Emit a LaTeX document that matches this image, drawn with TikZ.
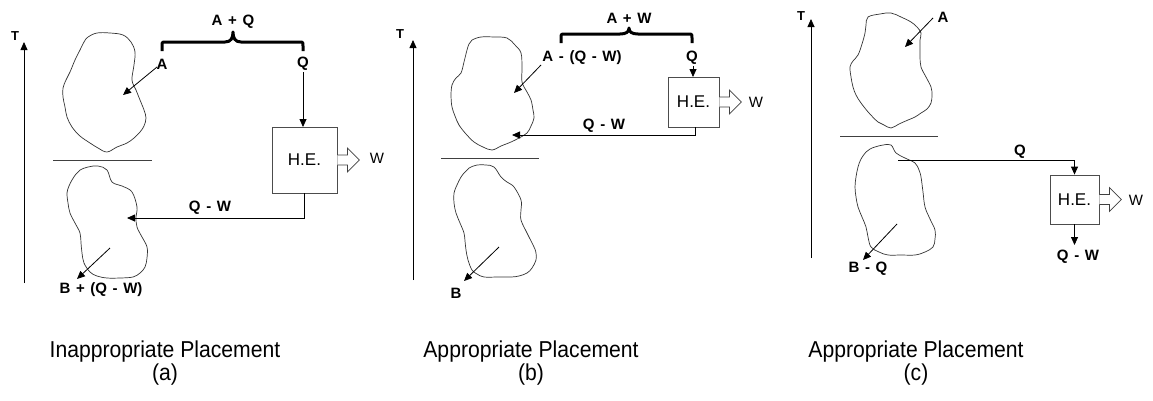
\documentclass[tikz,border=0pt]{standalone}
\usepackage{fontspec}
\setmainfont{Liberation Sans}
\newfontfamily\labfont{Liberation Sans}[WordSpace=1.35]
\newfontfamily\capfont{Liberation Sans}[FakeStretch=0.92]
\usetikzlibrary{arrows.meta}
\begin{document}
\begin{tikzpicture}[x=1pt,y=-1pt,
  blob/.style={draw=black!80, line width=0.7pt},
  arr/.style={draw=black, line width=0.8pt, -{Triangle[length=8pt,width=7pt]}},
  sepline/.style={draw=black!75, line width=0.8pt},
  lab/.style={font=\fontsize{15}{17}\labfont\bfseries, inner sep=0pt},
  wlab/.style={font=\fontsize{15}{17}\selectfont, inner sep=0pt},
  tlab/.style={font=\fontsize{13}{15}\selectfont\bfseries, inner sep=0pt},
  he/.style={draw=black!70, line width=0.8pt, fill=white, font=\fontsize{17}{19}\selectfont, inner sep=0pt},
  captext/.style={font=\fontsize{23}{25}\capfont, inner sep=0pt},
  bracepath/.style={draw=black, line width=3pt, line join=round},
  workarrow/.pic={\draw[draw=black!75, line width=0.8pt, fill=white] (0,-5) -- (10,-5) -- (10,-12) -- (22,0) -- (10,12) -- (10,5) -- (0,5);}
]
\useasboundingbox (0,0) rectangle (1153,400);

% ================= Panel (a) =================
\coordinate (aT0) at (24,283); \coordinate (aT1) at (24,42);
\draw[arr] (aT0) -- (aT1);
\node[tlab] (aTl) at (15,36) {T};
\draw[blob] plot[smooth cycle, tension=0.6] coordinates {(97,33) (110,33) (123,35) (131,42) (135,52) (134,65) (132,80) (136,90) (140,100) (144,110) (146,118) (144,126) (140,132) (134,138) (127,143) (117,147) (107,152) (98,148) (90,143) (80,136) (72,127) (67,117) (65,107) (63,97) (63,88) (66,80) (70,72) (75,60) (80,50) (84,42) (88,37)};
\draw[blob] plot[smooth cycle, tension=0.6] coordinates {(88,167) (98,166) (107,170) (112,182) (122,186) (132,192) (137,207) (136,217) (137,227) (142,237) (147,247) (147,258) (145,267) (140,273) (133,277) (120,278) (107,278) (97,276) (90,272) (84,263) (82,253) (81,243) (80,233) (75,223) (70,213) (68,203) (67,193) (69,186) (72,180) (76,174) (80,170)};
\coordinate (aD0) at (53,160); \coordinate (aD1) at (152,160);
\draw[sepline] (aD0) -- (aD1);
\draw[bracepath] (162,51) -- (162,46) .. controls (162,42) .. (166,42) -- (225,42) .. controls (231,42) and (233,38) .. (233,32) .. controls (233,38) and (235,42) .. (241,42) -- (299,42) .. controls (303,42) .. (303,46) -- (303,51);
\node[lab] (aAQ) at (233,22) {A + Q};
\node[lab] (aA) at (162,64) {A};
\node[lab] (aQ) at (303,64) {Q};
\coordinate (aAs) at (157,67); \coordinate (aAe) at (123,95);
\draw[arr] (aAs) -- (aAe);
\node[he, minimum width=65pt, minimum height=66pt] (aHE) at (304.5,160) {H.E.};
\draw[arr] (303,72) -- (303,127);
\pic at (aHE.east) {workarrow};
\node[wlab] (aW) at (377,158) {W};
\coordinate (aIn) at (127,218);
\draw[arr] (aHE.south) |- (aIn);
\node[lab] (aQW) at (210,208) {Q - W};
\coordinate (aBs) at (110,248); \coordinate (aBe) at (77,279);
\draw[arr] (aBs) -- (aBe);
\node[lab] (aB) at (101,290) {B + (Q - W)};
\node[captext] (acap1) at (165,352) {Inappropriate Placement};
\node[captext] (acap2) at (165,375) {(a)};

% ================= Panel (b) =================
\coordinate (bT0) at (413,280); \coordinate (bT1) at (413,40);
\draw[arr] (bT0) -- (bT1);
\node[tlab] (bTl) at (400,34) {T};
\draw[blob] plot[smooth cycle, tension=0.6] coordinates {(481,37) (494,37) (507,38) (515,45) (521,53) (522,68) (522,82) (527,92) (531,100) (533,110) (534,118) (531,126) (527,133) (519,138) (511,142) (501,146) (492,150) (483,147) (474,142) (466,134) (459,125) (455,116) (452,107) (451,96) (452,85) (456,78) (461,73) (464,62) (467,50) (469,44) (472,40)};
\draw[blob] plot[smooth cycle, tension=0.6] coordinates {(477,165) (486,165) (494,167) (501,177) (507,182) (514,187) (521,200) (521,210) (521,220) (527,233) (534,247) (536,253) (536,260) (532,268) (527,273) (519,276) (511,277) (498,277) (484,277) (477,274) (472,270) (468,260) (466,250) (465,241) (464,233) (460,223) (456,213) (454,203) (454,193) (457,185) (461,177) (465,172) (469,168)};
\coordinate (bD0) at (441,158); \coordinate (bD1) at (539,158);
\draw[sepline] (bD0) -- (bD1);
\draw[bracepath] (561,43) -- (561,38) .. controls (561,34) .. (565,34) -- (620,34) .. controls (626,34) and (629,32) .. (629,28) .. controls (629,32) and (632,34) .. (638,34) -- (688,34) .. controls (692,34) .. (692,38) -- (692,43);
\node[lab] (bAW) at (629,18) {A + W};
\node[lab] (bA) at (582,58) {A - (Q - W)};
\node[lab] (bQ) at (692,58) {Q};
\coordinate (bAs) at (541,65); \coordinate (bAe) at (514,93);
\draw[arr] (bAs) -- (bAe);
\node[he, minimum width=51pt, minimum height=50pt] (bHE) at (693.5,102) {H.E.};
\draw[arr] (693,66) -- (693,77);
\pic at (bHE.east) {workarrow};
\node[wlab] (bW) at (756,102) {W};
\coordinate (bIn) at (512,135);
\draw[arr] (695,127) |- (bIn);
\node[lab] (bQW) at (604,126) {Q - W};
\coordinate (bBs) at (499,247); \coordinate (bBe) at (464,281);
\draw[arr] (bBs) -- (bBe);
\node[lab] (bB) at (456,293) {B};
\node[captext] (bcap1) at (531,352) {Appropriate Placement};
\node[captext] (bcap2) at (531,375) {(b)};

% ================= Panel (c) =================
\coordinate (cT0) at (811,258); \coordinate (cT1) at (811,19);
\draw[arr] (cT0) -- (cT1);
\node[tlab] (cTl) at (801,16) {T};
\draw[blob] plot[smooth cycle, tension=0.6] coordinates {(868,17) (880,14) (891,13) (901,17) (911,22) (917,27) (921,33) (920,40) (920,47) (920,57) (921,67) (926,77) (931,87) (932,95) (931,103) (927,109) (921,113) (915,117) (908,120) (899,124) (891,128) (884,125) (878,122) (869,113) (861,103) (856,95) (853,87) (851,77) (850,67) (853,61) (858,55) (862,44) (865,33) (866,25)};
\draw[blob] plot[smooth cycle, tension=0.6] coordinates {(875,147) (883,145) (891,145) (896,153) (905,158) (915,163) (919,170) (921,177) (923,192) (925,207) (930,219) (935,230) (935,239) (933,247) (925,252) (915,255) (901,255) (888,255) (879,252) (871,247) (868,237) (866,227) (862,217) (858,207) (856,197) (855,187) (856,177) (858,167) (861,159) (866,152) (870,149)};
\coordinate (cD0) at (840,136); \coordinate (cD1) at (938,136);
\draw[sepline] (cD0) -- (cD1);
\node[lab] (cA) at (943,17) {A};
\coordinate (cAs) at (933,18); \coordinate (cAe) at (905,47);
\draw[arr] (cAs) -- (cAe);
\node[he, minimum width=49pt, minimum height=49pt] (cHE) at (1074.5,199.5) {H.E.};
\coordinate (cQs) at (898,160);
\draw[arr] (cQs) -| (cHE.north);
\node[lab] (cQ) at (1020,152) {Q};
\pic at (cHE.east) {workarrow};
\node[wlab] (cW) at (1136,200) {W};
\coordinate (cOut) at (1074.5,245);
\draw[arr] (cHE.south) -- (cOut);
\node[lab] (cQW) at (1078,257) {Q - W};
\coordinate (cBs) at (897,224); \coordinate (cBe) at (863,260);
\draw[arr] (cBs) -- (cBe);
\node[lab] (cB) at (868,269) {B - Q};
\node[captext] (ccap1) at (916,352) {Appropriate Placement};
\node[captext] (ccap2) at (916,375) {(c)};
\end{tikzpicture}
\end{document}
